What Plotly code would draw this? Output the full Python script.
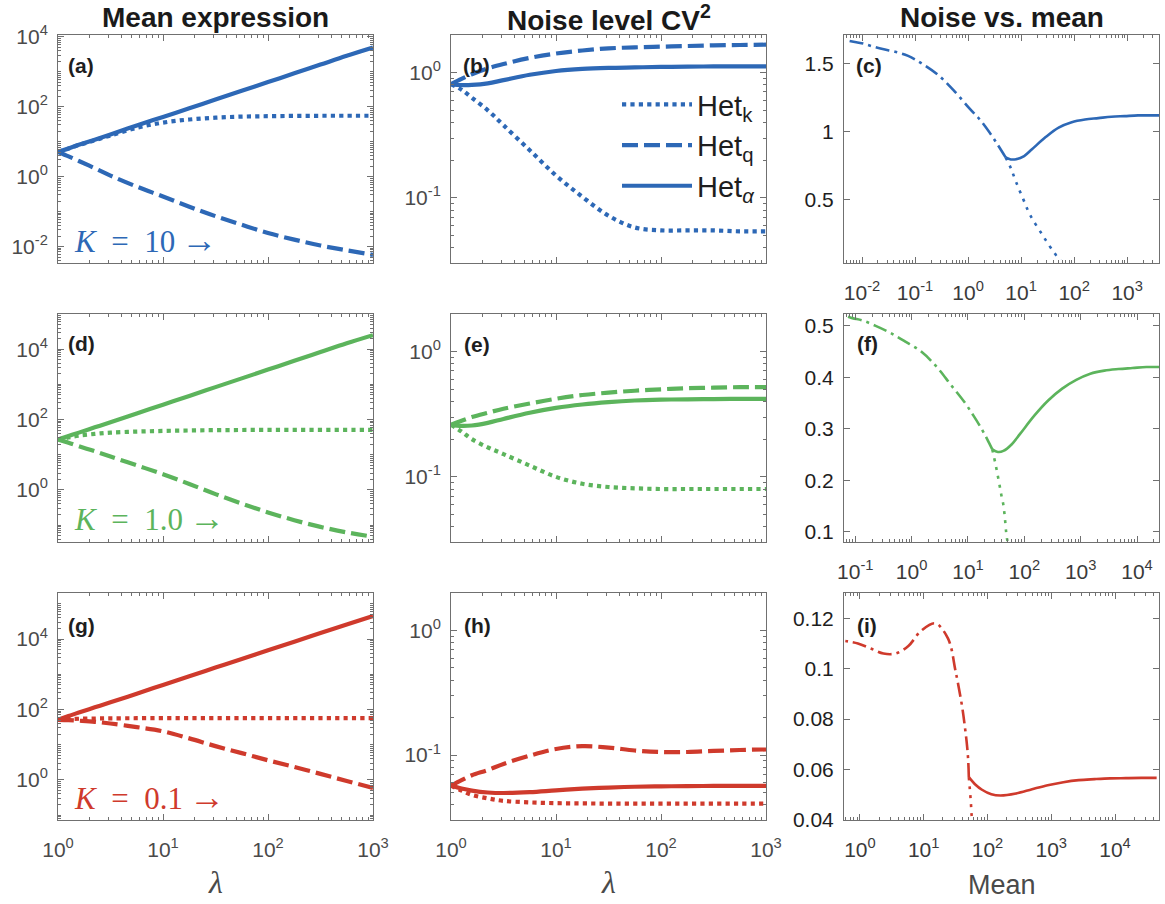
import math
import plotly.graph_objects as go

# ---------------- data ----------------
lam = [1, 1.26, 1.58, 2.24, 3.16, 5.62, 10, 17.8, 31.6, 56.2, 100, 178, 316, 562, 1000]

# K = 10 (blue)
mean_k_10 = [5.1, 6.4, 8.0, 11.0, 15.0, 25, 35, 43, 48.5, 52, 53.5, 54.5, 55, 55, 55]
mean_q_10 = [5.1, 3.8, 2.8, 1.74, 1.07, 0.52, 0.27, 0.138, 0.074, 0.042, 0.0245, 0.0158, 0.0107, 0.0078, 0.0058]
mean_a_10 = [5.1, 6.4, 8.1, 11.4, 16, 29, 51, 90, 160, 285, 505, 900, 1600, 2850, 4900]
cv2_k_10 = [0.81, 0.73, 0.63, 0.50, 0.38, 0.24, 0.151, 0.102, 0.072, 0.058, 0.055, 0.055, 0.055, 0.054, 0.054]
cv2_q_10 = [0.81, 0.89, 0.97, 1.08, 1.17, 1.31, 1.42, 1.50, 1.56, 1.59, 1.61, 1.63, 1.65, 1.66, 1.67]
cv2_a_10 = [0.81, 0.795, 0.797, 0.82, 0.87, 0.96, 1.03, 1.07, 1.09, 1.10, 1.11, 1.115, 1.12, 1.12, 1.12]

# K = 1.0 (green)
mean_k_1 = [27, 31, 35, 39, 42.5, 45.5, 47.5, 49, 50, 50.5, 51, 51, 51, 51, 51]
mean_q_1 = [27, 21.9, 17.4, 12.6, 8.9, 5.0, 2.8, 1.48, 0.76, 0.41, 0.23, 0.138, 0.089, 0.062, 0.047]
mean_a_1 = [27, 34, 42.5, 60, 84, 149, 265, 470, 835, 1480, 2630, 4670, 8300, 14700, 25000]
cv2_k_1 = [0.26, 0.23, 0.20, 0.172, 0.152, 0.123, 0.10, 0.088, 0.083, 0.081, 0.08, 0.08, 0.08, 0.08, 0.08]
cv2_q_1 = [0.26, 0.28, 0.30, 0.325, 0.35, 0.385, 0.42, 0.45, 0.47, 0.487, 0.50, 0.51, 0.515, 0.52, 0.52]
cv2_a_1 = [0.26, 0.255, 0.257, 0.27, 0.29, 0.325, 0.355, 0.378, 0.395, 0.407, 0.413, 0.416, 0.418, 0.42, 0.42]

# K = 0.1 (red)
mean_k_01 = [51, 53, 54.5, 55.5, 56, 56.5, 57, 57, 57, 57, 57, 57, 57, 57, 57]
mean_q_01 = [51, 50, 48, 44.7, 40, 31.6, 24, 15.1, 9.1, 5.75, 3.6, 2.34, 1.48, 0.93, 0.59]
mean_a_01 = [51, 65, 82, 115, 160, 280, 500, 880, 1550, 2700, 4800, 8400, 14800, 26000, 45000]
cv2_k_01 = [0.057, 0.052, 0.048, 0.045, 0.043, 0.0418, 0.0412, 0.041, 0.0409, 0.0408, 0.0408, 0.0408, 0.0408, 0.0408, 0.0408]
cv2_q_01 = [0.057, 0.063, 0.069, 0.076, 0.085, 0.099, 0.112, 0.118, 0.115, 0.109, 0.106, 0.106, 0.108, 0.110, 0.111]
cv2_a_01 = [0.057, 0.054, 0.052, 0.0502, 0.0497, 0.0505, 0.0522, 0.0538, 0.055, 0.0558, 0.0562, 0.0565, 0.0566, 0.0567, 0.0567]

K_labels = ["10", "1.0", "0.1"]
colors = ["#2D68B6", "#5CB45C", "#CF3A2C"]
het_names = ["Het<sub>k</sub>", "Het<sub>q</sub>", "Het<sub><i>α</i></sub>"]
col_titles = ["Mean expression", "Noise level CV<sup>2</sup>", "Noise vs. mean"]
panel_tags = ["(a)", "(b)", "(c)", "(d)", "(e)", "(f)", "(g)", "(h)", "(i)"]

rows = [
    (mean_k_10, mean_q_10, mean_a_10, cv2_k_10, cv2_q_10, cv2_a_10),
    (mean_k_1, mean_q_1, mean_a_1, cv2_k_1, cv2_q_1, cv2_a_1),
    (mean_k_01, mean_q_01, mean_a_01, cv2_k_01, cv2_q_01, cv2_a_01),
]

# ---------------- layout geometry ----------------
W, H = 1165, 904
col_px = [(58, 373), (451, 766), (844, 1159)]
row_px = [(35, 263), (314, 542), (593, 820)]
FONT = "Liberation Sans, Arial, Helvetica, sans-serif"
SERIF = "Liberation Serif, DejaVu Serif, serif"
AXC = "#707070"

thick = 4.2
thin = 2.6
dash_thick = ["dot", "16px,6px", "solid"]
dash_thin = ["3px,6px", "14px,5px,3px,5px", "solid"]

fig = go.Figure()


def ax_name(p):
    return "" if p == 0 else str(p + 1)


for r in range(3):
    mk, mq, ma, ck, cq, ca = rows[r]
    means = [mk, mq, ma]
    cvs = [ck, cq, ca]
    col = colors[r]
    for c in range(3):
        p = r * 3 + c
        xa, ya = "x" + ax_name(p), "y" + ax_name(p)
        for h in range(3):
            if c == 0:
                xs, ys, w, d = lam, means[h], thick, dash_thick[h]
            elif c == 1:
                xs, ys, w, d = lam, cvs[h], thick, dash_thick[h]
            else:
                xs, ys, w, d = means[h], cvs[h], thin, dash_thin[h]
            fig.add_trace(go.Scatter(
                x=xs, y=ys, mode="lines", xaxis=xa, yaxis=ya,
                line=dict(color=col, width=w, dash=d, shape="spline", smoothing=1.0),
                name=het_names[h], showlegend=(p == 1), hoverinfo="skip"))


def log_ticks(lo, hi, step):
    vals, txt = [], []
    e = math.ceil(lo - 1e-9)
    while e <= hi + 1e-9:
        if (e % step) == 0:
            vals.append(10.0 ** e)
            txt.append("10<sup>%d</sup>" % e)
        e += 1
    return vals, txt


def minor_ticks(lo, hi, labeled):
    out = []
    for e in range(math.floor(lo), math.ceil(hi) + 1):
        for d in range(1, 10):
            v = d * 10.0 ** e
            lv = math.log10(v)
            if lo - 1e-9 <= lv <= hi + 1e-9:
                if d == 1 and any(abs(v - t) / t < 1e-9 for t in labeled):
                    continue
                out.append(v)
    return out


def base_axis(showlabels, fcolor, is_x):
    return dict(showline=True, linecolor=AXC, linewidth=1, mirror="ticks",
                ticks="inside", ticklen=6, tickcolor=AXC, tickwidth=1,
                showgrid=False, zeroline=False, showticklabels=showlabels,
                automargin=False, ticklabelstandoff=(11 if is_x else 5),
                tickfont=dict(family=FONT, size=21, color=fcolor))


def log_axis(lo, hi, step, showlabels, fcolor, is_x):
    a = base_axis(showlabels, fcolor, is_x)
    tv, tt = log_ticks(lo, hi, step)
    a.update(type="log", range=[lo, hi], tickmode="array", tickvals=tv, ticktext=tt,
             minor=dict(ticks="inside", ticklen=3, tickcolor=AXC, tickmode="array",
                        tickvals=minor_ticks(lo, hi, tv), showgrid=False))
    return a


y_log_ranges = {0: (-2.47, 4.05, 2), 3: (-1.48, 5.0, 2), 6: (-1.14, 5.31, 2),
                1: (-1.52, 0.3, 1), 4: (-1.52, 0.3, 1), 7: (-1.52, 0.3, 1)}
y_lin = {2: ([0.03, 1.714], [0.5, 1, 1.5], ["0.5", "1", "1.5"]),
         5: ([0.08, 0.523], [0.1, 0.2, 0.3, 0.4, 0.5], ["0.1", "0.2", "0.3", "0.4", "0.5"]),
         8: ([0.04, 0.13], [0.04, 0.06, 0.08, 0.1, 0.12], ["0.04", "0.06", "0.08", "0.1", "0.12"])}
x_c3 = {2: (-2.34, 3.6), 5: (-1.2, 4.39), 8: (-0.25, 4.69)}

layout_axes = {}
for r in range(3):
    for c in range(3):
        p = r * 3 + c
        x0, x1 = col_px[c]
        y0, y1 = row_px[r]
        fcol = "#4a4a4a" if c < 2 else "#1e1e1e"
        if c < 2:
            xa = log_axis(0, 3, 1, r == 2, "#4a4a4a", True)
            lo, hi, st = y_log_ranges[p]
            ya = log_axis(lo, hi, st, True, fcol, False)
        else:
            lo, hi = x_c3[p]
            xa = log_axis(lo, hi, 1, True, "#3a3a3a", True)
            rng, tv, tt = y_lin[p]
            ya = base_axis(True, fcol, False)
            ya.update(type="linear", range=rng, tickmode="array", tickvals=tv, ticktext=tt)
        xa["domain"] = [x0 / W, x1 / W]
        ya["domain"] = [1 - y1 / H, 1 - y0 / H]
        xa["anchor"] = "y" + ax_name(p)
        ya["anchor"] = "x" + ax_name(p)
        layout_axes["xaxis" + ax_name(p)] = xa
        layout_axes["yaxis" + ax_name(p)] = ya

annotations = []
for c in range(3):
    cx = (col_px[c][0] + col_px[c][1]) / 2 / W
    annotations.append(dict(text="<b>%s</b>" % col_titles[c], x=cx, y=1 - 18 / H,
                            xref="paper", yref="paper", xanchor="center", yanchor="middle",
                            showarrow=False, font=dict(family=FONT, size=28, color="#1a1a1a")))
tag_pos = [(66, 66), (461, 66), (854, 65), (66, 343), (462, 345), (855, 343),
           (66, 625), (462, 625), (855, 625)]
for p, (tx, ty) in enumerate(tag_pos):
    annotations.append(dict(text="<b>%s</b>" % panel_tags[p], x=tx / W, y=1 - ty / H,
                            xref="paper", yref="paper", xanchor="left", yanchor="middle",
                            showarrow=False, font=dict(family=FONT, size=21, color="#1e1e1e")))
k_y = [240, 518, 797]
for r in range(3):
    annotations.append(dict(text="<i>K</i>\u2002=\u2002%s\u2009<span style='font-size:36px'>→</span>" % K_labels[r],
                            x=72 / W, y=1 - k_y[r] / H,
                            xref="paper", yref="paper", xanchor="left", yanchor="middle",
                            showarrow=False,
                            font=dict(family=SERIF, size=31, color=colors[r])))
# axis titles of the bottom row
for c in range(2):
    cx = (col_px[c][0] + col_px[c][1]) / 2 / W
    annotations.append(dict(text="<i>λ</i>", x=cx, y=1 - 882 / H, xref="paper", yref="paper",
                            xanchor="center", yanchor="middle", showarrow=False,
                            font=dict(family=SERIF, size=32, color="#4a4a4a")))
annotations.append(dict(text="Mean", x=(col_px[2][0] + col_px[2][1]) / 2 / W, y=1 - 885 / H,
                        xref="paper", yref="paper", xanchor="center", yanchor="middle",
                        showarrow=False, font=dict(family=FONT, size=27, color="#4a4a4a")))

fig.update_layout(
    width=W, height=H, autosize=False,
    margin=dict(l=0, r=0, t=0, b=0),
    paper_bgcolor="white", plot_bgcolor="white",
    showlegend=True,
    legend=dict(x=617 / W, y=1 - 79 / H, xanchor="left", yanchor="top",
                bgcolor="rgba(0,0,0,0)", borderwidth=0, itemwidth=70,
                font=dict(family=FONT, size=29, color="#1e1e1e"), tracegroupgap=0),
    annotations=annotations,
    **layout_axes,
)

fig.write_html("out.html")
